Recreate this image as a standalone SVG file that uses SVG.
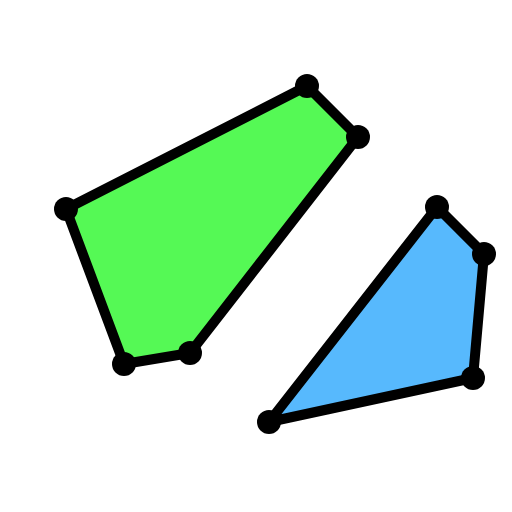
<svg xmlns="http://www.w3.org/2000/svg" width="512" height="512" viewBox="0 0 512 512">
<style>
.poly{stroke:#000;stroke-width:10;stroke-linejoin:round}
.dot{fill:#000}
</style>
<rect width="512" height="512" fill="#fff"/>
<g id="green">
<polygon class="poly" fill="#55f955" points="307,86 358,137 190,353 124,364 66,209"/>
<circle class="dot" cx="307" cy="86" r="12"/>
<circle class="dot" cx="358" cy="137" r="12"/>
<circle class="dot" cx="190" cy="353" r="12"/>
<circle class="dot" cx="124" cy="364" r="12"/>
<circle class="dot" cx="66" cy="209" r="12"/>
</g>
<g id="blue">
<polygon class="poly" fill="#57b9fd" points="437,207 484,254 473,378 269,422"/>
<circle class="dot" cx="437" cy="207" r="12"/>
<circle class="dot" cx="484" cy="254" r="12"/>
<circle class="dot" cx="473" cy="378" r="12"/>
<circle class="dot" cx="269" cy="422" r="12"/>
</g>
</svg>
